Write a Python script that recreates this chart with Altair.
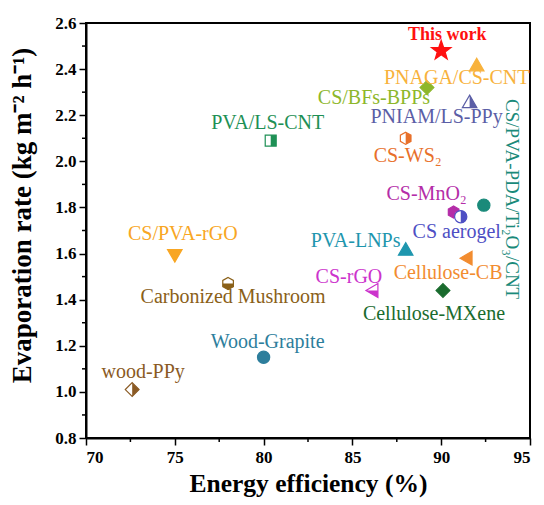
import math
import altair as alt
import pandas as pd

# Solar evaporators: energy efficiency (%) vs evaporation rate (kg m-2 h-1)
names = [
    "This work", "PNAGA/CS-CNT", "CS/BFs-BPPs", "PNIAM/LS-PPy", "CS-WS₂",
    "PVA/LS-CNT", "CS-MnO₂", "CS aerogel", "CS/PVA-PDA/Ti₂O₃/CNT", "PVA-LNPs",
    "Cellulose-CB", "CS-rGO", "Cellulose-MXene", "CS/PVA-rGO",
    "Carbonized Mushroom", "Wood-Grapite", "wood-PPy",
]
efficiency = [90.0, 92.0, 89.2, 91.6, 88.0, 80.4, 90.7, 91.1, 92.4, 88.0,
              91.4, 86.1, 90.1, 75.0, 78.0, 80.0, 72.6]
rate = [2.48, 2.42, 2.32, 2.26, 2.10, 2.09, 1.78, 1.76, 1.81, 1.62,
        1.58, 1.44, 1.44, 1.59, 1.47, 1.15, 1.01]
colors = ["#FF1010", "#F8B23C", "#8DB72A", "#5B5EA6", "#E8702A",
          "#1E9055", "#B42DA8", "#4E4FC4", "#1A8A7A", "#1E96AE",
          "#F28C30", "#CC33CC", "#1A6B2E", "#F8A623",
          "#8A6018", "#2D7E9C", "#8A5A24"]
markers = ["star", "tri_up", "diamond", "tri_up", "hexagon",
           "square", "hexagon", "circle", "circle", "tri_up",
           "tri_left", "tri_left", "diamond", "tri_down",
           "hexagon", "circle", "diamond"]
# which part of a marker is solid: "full", "right", "bottom"
fills = ["full", "full", "full", "right", "right",
         "right", "full", "right", "full", "full",
         "full", "bottom", "full", "full",
         "bottom", "full", "right"]

x_ticks = [70, 75, 80, 85, 90, 95]
x_minor = [72.5, 77.5, 82.5, 87.5, 92.5]
y_ticks = [0.8, 1.0, 1.2, 1.4, 1.6, 1.8, 2.0, 2.2, 2.4, 2.6]
y_minor = [0.9, 1.1, 1.3, 1.5, 1.7, 1.9, 2.1, 2.3, 2.5]

# label placement relative to each marker (pixels): dx, dy, angle
# (for the rotated label dx/dy act along the rotated text frame)
label_dx = [6, -20, -53, -33, 2, -3, -27, -4, -6, -50, -18, -23, -9, 8, 5, 4, 11]
label_dy = [-16, 13, 10, 16, 18, -18, -18, 15, -28, -8, 15, -13, 24, -22, 13, -15, -18]
label_angle = [0, 0, 0, 0, 0, 0, 0, 0, 90, 0, 0, 0, 0, 0, 0, 0, 0]
label_size = [18, 20, 20, 20, 20, 20, 20, 20, 19, 20, 20, 20, 20, 20, 20, 20, 20]

FONT = "Liberation Serif"


def star_path(outer=1.0, inner=0.4):
    pts = []
    for k in range(10):
        r = outer if k % 2 == 0 else inner
        a = math.radians(-90 + 36 * k)
        pts.append(f"{r * math.cos(a):.3f},{r * math.sin(a):.3f}")
    return "M" + "L".join(pts) + "Z"


# marker outlines in unit coordinates
outline_path = {
    "tri_up": "M0,-0.866L1,0.866L-1,0.866Z",
    "tri_down": "M0,0.866L1,-0.866L-1,-0.866Z",
    "tri_left": "M-0.866,0L0.866,-1L0.866,1Z",
    "diamond": "M0,-1L1,0L0,1L-1,0Z",
    "square": "M-1,-1L1,-1L1,1L-1,1Z",
    "hexagon": "M0,-1L0.866,-0.5L0.866,0.5L0,1L-0.866,0.5L-0.866,-0.5Z",
    "circle": "circle",
    "star": star_path(),
}
half_path = {
    ("tri_up", "right"): "M0,-0.866L1,0.866L0,0.866Z",
    ("tri_left", "bottom"): "M-0.866,0L0.866,0L0.866,1Z",
    ("diamond", "right"): "M0,-1L1,0L0,1Z",
    ("square", "right"): "M0,-1L1,-1L1,1L0,1Z",
    ("hexagon", "right"): "M0,-1L0.866,-0.5L0.866,0.5L0,1Z",
    ("hexagon", "bottom"): "M-0.866,0L0.866,0L0.866,0.5L0,1L-0.866,0.5Z",
    ("circle", "right"): "M0,-1A1,1,0,0,1,0,1Z",
}
marker_size = {"star": 420, "tri_up": 210, "tri_down": 210, "tri_left": 190,
               "diamond": 190, "square": 120, "hexagon": 150, "circle": 150}

df = pd.DataFrame({"name": names, "eff": efficiency, "rate": rate, "color": colors})
df["shape"] = [outline_path[m] for m in markers]
df["msize"] = [marker_size[m] for m in markers]
df["bg"] = [c if f == "full" else "white" for c, f in zip(colors, fills)]
df["half"] = [half_path.get((m, f), "") for m, f in zip(markers, fills)]

xs = alt.Scale(domain=[70, 95], nice=False, zero=False)
ys = alt.Scale(domain=[0.8, 2.6], nice=False, zero=False)

base = alt.Chart(df)

outline = base.mark_point(filled=True, strokeWidth=1.2, opacity=1).encode(
    x=alt.X("eff:Q", scale=xs, title="Energy efficiency (%)",
            axis=alt.Axis(values=x_ticks, format="d")),
    y=alt.Y("rate:Q", scale=ys, title="Evaporation rate (kg m⁻² h⁻¹)",
            axis=alt.Axis(values=y_ticks, format=".1f", titleY=192)),
    shape=alt.Shape("shape:N", scale=None),
    size=alt.Size("msize:Q", scale=None),
    fill=alt.Fill("bg:N", scale=None),
    stroke=alt.Stroke("color:N", scale=None),
)

half = base.transform_filter("datum.half != ''").mark_point(
    filled=True, strokeWidth=0, opacity=1
).encode(
    x="eff:Q", y="rate:Q",
    shape=alt.Shape("half:N", scale=None),
    size=alt.Size("msize:Q", scale=None),
    fill=alt.Fill("color:N", scale=None),
)

labels = []
for i, n in enumerate(names):
    bold = i == 0
    labels.append(
        base.transform_filter(alt.datum.name == n).mark_text(
            font=FONT, fontSize=label_size[i],
            fontWeight="bold" if bold else "normal",
            dx=label_dx[i], dy=label_dy[i], angle=label_angle[i],
            align="center", baseline="middle", color=colors[i],
        ).encode(x="eff:Q", y="rate:Q", text="name:N")
    )

minor_y = alt.Chart(pd.DataFrame({"v": y_minor})).mark_rule(
    color="black", strokeWidth=1.5
).encode(y="v:Q", x=alt.value(-4), x2=alt.value(0))
minor_x = alt.Chart(pd.DataFrame({"v": x_minor})).mark_rule(
    color="black", strokeWidth=1.5
).encode(x="v:Q", y=alt.value(415), y2=alt.value(419))

chart = alt.layer(outline, half, *labels, minor_y, minor_x).properties(
    width=444, height=415,
    autosize=alt.AutoSizeParams(type="none"),
    padding={"left": 86, "top": 23, "right": 14, "bottom": 67},
    background="white",
).configure_view(
    stroke="black", strokeWidth=2
).configure_axis(
    grid=False, domainColor="black", domainWidth=2,
    tickColor="black", tickWidth=1.5, tickSize=7,
    labelFont=FONT, labelFontSize=17, labelFontWeight="bold", labelColor="black",
    labelPadding=3,
    titleFont=FONT, titleFontWeight="bold", titleColor="black",
).configure_axisX(
    labelPadding=4, titlePadding=6, titleFontSize=25.5,
).configure_axisY(
    titlePadding=18, titleFontSize=27,
)

chart.save("out.html", embed_options={"renderer": "svg", "actions": False})
